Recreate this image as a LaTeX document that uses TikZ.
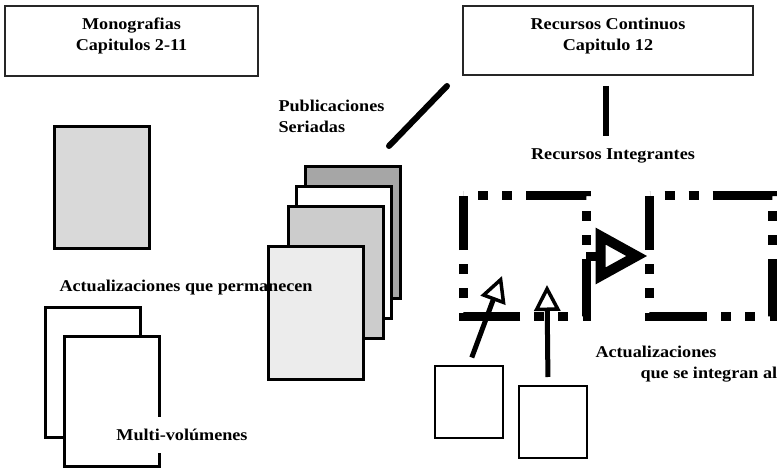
\documentclass[tikz,border=0pt]{standalone}
\usepackage{fontspec}
\setmainfont{Liberation Serif}[FakeStretch=1.1]
\usetikzlibrary{arrows.meta}

\begin{document}
\begin{tikzpicture}[x=1pt, y=-1pt,
font=\bfseries\fontsize{16.5}{21}\selectfont,
title/.style={draw=black!85, line width=1.5pt, inner sep=0pt},
page/.style={draw=black, line width=3pt, anchor=north west, inner sep=0pt,
    minimum width=95pt, minimum height=132pt},
sheet/.style={draw=black, line width=2pt, anchor=north west, inner sep=0pt,
    minimum width=68pt, minimum height=72pt},
frame/.style={inner sep=0pt, outer sep=0pt, minimum width=123pt, minimum height=120pt},
dotdash/.style={line width=9pt,
    dash pattern=on 10pt off 14pt on 10pt off 14pt on 60pt off 15pt, dash phase=108pt},
bar/.style={line width=6pt, line cap=round},
hollow/.style={line width=5pt, -{Triangle[open, length=26pt, width=26pt, line width=3.5pt]}},
big/.style={line width=9pt, -{Triangle[open, length=52pt, width=54pt, line width=10pt]}},
]
\useasboundingbox (0,0) rectangle (777,468);
\fill[white] (0,0) rectangle (777,468);

% monografias
\node[title, minimum width=253pt, minimum height=70pt] (mono) at (131.5,41) {};
\node[align=center] (monot) at (131.5,36) {Monografias\\Capitulos 2-11};
\node[page, fill=gray!30, minimum height=122pt] (mono1) at (53,125) {};

\node[page, fill=gray!70] (ser1) at (304,165) {};
\node[page, fill=white] (ser2) at (295,185) {};
\node[page, fill=gray!40] (ser3) at (287,205) {};
\node[page, fill=gray!15, minimum height=133pt] (ser4) at (267,245) {};
\node[anchor=west, align=left] (pub) at (275,116.5) {Publicaciones\\Seriadas};
\node[anchor=west] (perm) at (56,288) {Actualizaciones que permanecen};

\node[page, fill=white, minimum height=130pt] (multi1) at (44,306) {};
\node[page, fill=white, minimum height=130pt] (multi2) at (63,335) {};
\node[fill=white, inner xsep=3pt, inner ysep=12pt] (multi) at (182,435) {Multi-vol\'umenes};

% recursos continuos
\node[title, minimum width=290pt, minimum height=69pt] (cont) at (608,40.5) {};
\node[align=center] (contt) at (608,36) {Recursos Continuos\\Capitulo 12};
\node (integ) at (613,156) {Recursos Integrantes};
\coordinate (c1) at (447,86);
\coordinate (c2) at (389,146);
\coordinate (c3) at (606,86);
\coordinate (c4) at (606,136);
\draw[bar] (c1) -- (c2);
\draw[bar, line cap=butt] (c3) -- (c4);

\node[frame] (f1) at (524.5,256) {};
\node[frame] (f2) at (711,256) {};
\foreach \f in {f1,f2}
  \draw[dotdash] (\f.north west) -- (\f.north east) -- (\f.south east) -- (\f.south west) -- cycle;
\draw[big, shorten >=2pt] (f1.east) -- (f2.west);

\node[sheet] (upd1) at (434,365) {};
\node[sheet] (upd2) at (518,385) {};
\coordinate (t1) at (502,276);
\coordinate (t2) at (547,285);
\draw[hollow, shorten <=8pt] (upd1.north) -- (t1);
\draw[hollow, shorten <=8pt] ([xshift=-5pt]upd2.north) -- (t2);
\node[anchor=west, align=left] (integr) at (592,364) {Actualizaciones\\\hspace*{45pt}que se integran al};

\end{tikzpicture}
\end{document}
